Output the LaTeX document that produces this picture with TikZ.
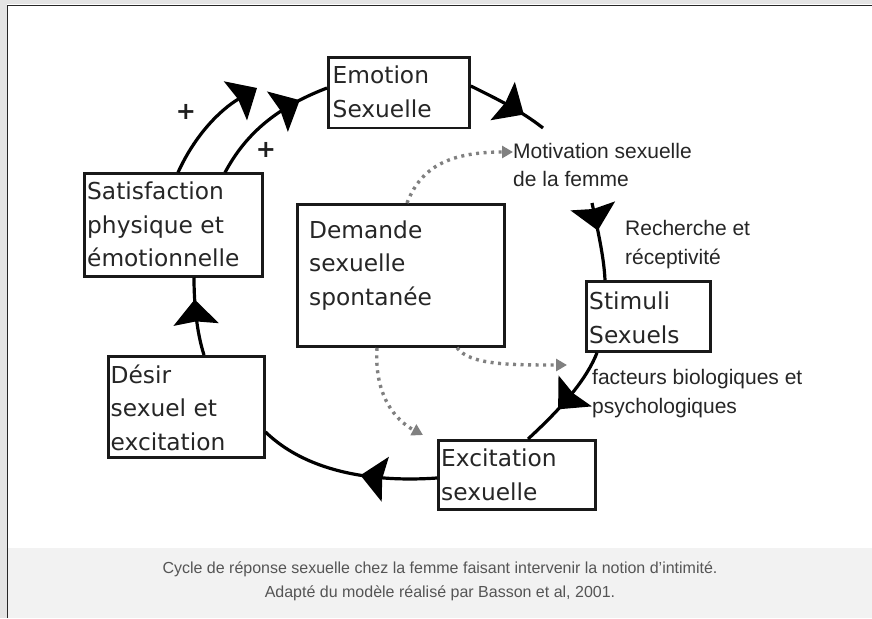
\documentclass[tikz,border=0pt]{standalone}
\usepackage{fontspec}
\setmainfont{Liberation Sans}
\newfontfamily\boxfont{DejaVu Sans}
\usetikzlibrary{arrows.meta,decorations.markings}
\definecolor{captxt}{HTML}{555555}
\definecolor{capband}{HTML}{F2F2F2}
\definecolor{framegray}{HTML}{E4E4E4}
\begin{document}
\begin{tikzpicture}[x=1pt,y=-1pt,
  box/.style={draw=black!90, line width=2.8pt, inner sep=0pt, anchor=north west},
  boxtext/.style={font=\boxfont\fontsize{23.3}{33.5}\selectfont, text=black!85, align=left, anchor=base west, inner sep=0pt},
  sidetext/.style={font=\fontsize{21}{28.5}\selectfont, text=black!85, align=left, anchor=base west, inner sep=0pt},
  plustext/.style={font=\boxfont\bfseries\fontsize{24}{24}\selectfont, text=black!88, inner sep=0pt},
  headtip/.style={-{Stealth[length=25pt,width=45pt,inset=3pt]}},
  cyc/.style={line width=3.2pt, draw=black, postaction={decorate},
    decoration={markings, mark=at position #1 with {\arrow{Stealth[length=25pt,width=45pt,inset=3pt]}}}},
  cycend/.style={line width=3.2pt, draw=black, headtip},
  dotline/.style={draw=black!50, line width=3.4pt, dash pattern=on 3pt off 4.5pt, -{Triangle[length=11pt,width=12pt]}}
]
\useasboundingbox (0,0) rectangle (872,618);
% frame
\fill[white] (0,0) rectangle (872,618);
\fill[framegray] (0,0) rectangle (7,618);
\fill[framegray] (0,0) rectangle (872,4.5);
\fill[capband] (8.3,548) rectangle (872,618);
\draw[black!85, line width=1.6pt] (7.5,618) -- (7.5,5.5) -- (872,5.5);

% boxes (text nodes anchored at the baseline of their last line)
\node[box, minimum width=141pt, minimum height=70pt] (emo) at (327,56.5) {};
\node[boxtext] (emot) at (332.5,117) {Emotion\\Sexuelle};

\node[box, minimum width=178pt, minimum height=103pt] (sat) at (82.7,171.7) {};
\node[boxtext] (satt) at (87,266.5) {Satisfaction\\physique et\\émotionnelle};

\node[box, minimum width=156pt, minimum height=101pt] (des) at (106.7,355) {};
\node[boxtext] (dest) at (110.5,450) {Désir\\sexuel et\\excitation};

\node[box, minimum width=207pt, minimum height=142pt] (dem) at (296,203) {};
\node[boxtext] (demt) at (309,305) {Demande\\sexuelle\\spontanée};

\node[box, minimum width=124pt, minimum height=70pt] (stim) at (585,280) {};
\node[boxtext] (stimt) at (589,343) {Stimuli\\Sexuels};

\node[box, minimum width=157pt, minimum height=69pt] (exc) at (437,439) {};
\node[boxtext] (exct) at (441,500) {Excitation\\sexuelle};

% side labels
\node[sidetext] (mot) at (513,186.5) {Motivation sexuelle\\de la femme};
\node[sidetext] (rech) at (625,264) {Recherche et\\réceptivité};
\node[sidetext] (fact) at (592,413) {facteurs biologiques et\\psychologiques};

\node[plustext] (p1) at (186,112) {+};
\node[plustext] (p2) at (266,150) {+};

% free ends
\coordinate (a1end) at (257,88);
\coordinate (e1end) at (543,128);
\coordinate (m1start) at (592,203);

% cycle connectors
\draw[cycend] (178,172.5) .. controls (195,135) and (220,110) .. (a1end);
\draw[cyc=0.78] (225,172.5) .. controls (245,135) and (275,108) .. (emo.west |- 0,88);
\draw[cyc=0.72] (emo.east |- 0,86) .. controls (495,98) and (520,110) .. (e1end);
\draw[cyc=0.36] (m1start) .. controls (600,240) and (604,260) .. (stim.north -| 605,0);
\draw[cyc=0.62] (stim.south -| 597,0) .. controls (587,378) and (565,405) .. (exc.north -| 528,0);
\draw[cyc=0.42] (exc.west |- 0,478) .. controls (380,482) and (310,475) .. (des.east |- 0,432);
\draw[cyc=0.72] (des.north -| 204,0) .. controls (196,330) and (194,300) .. (sat.south -| 194,0);

% dotted connectors
\draw[dotline] (dem.north -| 407,0) .. controls (420,170) and (445,152) .. (mot.west |- 0,152);
\draw[dotline] (dem.south -| 457,0) .. controls (470,365) and (510,365) .. (567,365);
\draw[dotline] (dem.south -| 377,0) .. controls (374,395) and (395,420) .. (423,435);

% caption
\node[font=\fontsize{16}{24}\selectfont, text=captxt, align=center, anchor=base, inner sep=0pt] (cap) at (440,597)
  {Cycle de réponse sexuelle chez la femme faisant intervenir la notion d’intimité.\\Adapté du modèle réalisé par Basson et al, 2001.};
\end{tikzpicture}
\end{document}
